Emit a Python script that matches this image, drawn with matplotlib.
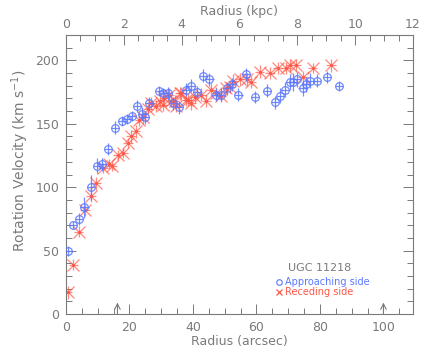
"""Rotation curve of UGC 11218, approaching and receding sides."""

import numpy as np
import matplotlib
matplotlib.use("Agg")
import matplotlib.pyplot as plt
from matplotlib.ticker import MultipleLocator

# approaching side (blue circles)
r_app = [0.5, 2.3, 4.0, 5.8, 7.8, 9.7, 11.4, 13.3, 15.4, 17.7, 19.1, 20.7,
         22.5, 24.0, 25.0, 26.3, 29.2, 30.7, 32.2, 33.7, 35.5, 37.7, 39.5,
         41.4, 43.2, 45.2, 47.4, 48.9, 50.7, 52.3, 54.3, 56.7, 59.5, 63.2,
         65.8, 67.4, 68.9, 70.5, 71.6, 72.8, 74.5, 75.6, 77.0, 79.1, 82.1,
         86.1]
v_app = [50, 70, 75, 84, 100, 117, 118, 130, 147, 152, 154, 156,
         164, 158, 155, 166, 176, 174, 174, 166, 163, 177, 180,
         175, 188, 185, 173, 173, 178, 181, 173, 189, 171, 176,
         167, 172, 177, 183, 183, 185, 178, 181, 184, 184, 187,
         180]
e_app = [4, 3, 5, 8, 10, 6, 5, 5, 5, 4, 4, 4,
         5, 5, 5, 5, 4, 4, 5, 5, 5, 5, 5,
         5, 5, 5, 5, 5, 5, 5, 5, 5, 5, 5,
         5, 6, 6, 6, 7, 6, 6, 6, 6, 5, 5,
         4]

# receding side (red crosses)
r_rec = [0.5, 2.3, 4.0, 5.9, 7.8, 9.5, 11.6, 13.5, 14.5, 16.4, 18.1, 19.5,
         20.5, 21.9, 23.1, 24.2, 25.8, 26.9, 28.4, 29.5, 30.5, 31.0, 32.6,
         33.2, 34.2, 34.7, 35.8, 36.3, 37.9, 38.4, 39.5, 40.5, 42.6, 44.2,
         45.8, 47.4, 48.9, 50.5, 51.6, 52.6, 54.7, 57.0, 58.4, 61.0, 64.2,
         66.7, 69.3, 70.7, 72.6, 74.7, 77.7, 83.4]
v_rec = [17, 39, 65, 82, 93, 103, 115, 118, 117, 125, 127, 135,
         140, 144, 153, 155, 162, 166, 164, 168, 165, 170, 173,
         168, 168, 164, 174, 174, 169, 169, 166, 171, 173, 168,
         177, 174, 172, 178, 179, 184, 185, 185, 183, 191, 190,
         194, 194, 196, 196, 187, 194, 196]
e_rec = [5, 4, 4, 5, 5, 5, 4, 4, 4, 4, 4, 4,
         5, 5, 5, 5, 5, 5, 5, 5, 5, 5, 5,
         5, 5, 5, 5, 5, 5, 5, 5, 5, 5, 5,
         5, 5, 5, 5, 5, 5, 5, 5, 5, 5, 5,
         5, 5, 5, 5, 5, 4, 5]

arrow_pos = [16.2, 100.0]

grey = "#7a7a7a"
blue = "#5a78ff"
red = "#ff5848"

fig = plt.figure(figsize=(4.36, 3.49), dpi=100)
ax = fig.add_axes([0.1514, 0.1003, 0.7958, 0.7994])

ax.errorbar(r_app, v_app, yerr=e_app, xerr=1.3, fmt="o", mfc="none",
            mec=blue, ecolor=blue, ms=5.5, mew=0.9, elinewidth=0.9,
            capsize=0, alpha=0.85, zorder=3)
ax.errorbar(r_rec, v_rec, yerr=e_rec, xerr=1.5, fmt="x", color=red,
            ms=8, mew=0.9, elinewidth=0.9, capsize=0, alpha=0.7, zorder=2)
ax.plot(r_rec, v_rec, ".", color=red, ms=2.5, zorder=2)

for xa in arrow_pos:
    ax.annotate("", xy=(xa, 9), xytext=(xa, 0),
                arrowprops=dict(arrowstyle="->", color=grey, lw=0.8,
                                shrinkA=0, shrinkB=0))

ax.set_xlim(0, 109.3)
ax.set_ylim(0, 220)
ax.xaxis.set_major_locator(MultipleLocator(20))
ax.xaxis.set_minor_locator(MultipleLocator(5))
ax.yaxis.set_major_locator(MultipleLocator(50))
ax.yaxis.set_minor_locator(MultipleLocator(10))
ax.tick_params(which="both", direction="in", colors=grey, labelsize=9,
               right=True, top=False, width=0.7)
ax.tick_params(which="major", length=7, pad=5)
ax.tick_params(which="minor", length=4)
for s in ax.spines.values():
    s.set_color(grey)
    s.set_linewidth(0.8)

ax.set_xlabel("Radius (arcsec)", color=grey, fontsize=9, labelpad=1)
ax.set_ylabel(r"Rotation Velocity (km s$^{-1}$)", color=grey, fontsize=10)
ax.yaxis.set_label_coords(-0.10, 0.55)

# top axis in kpc
top = ax.twiny()
top.set_xlim(0, 12)
top.xaxis.set_major_locator(MultipleLocator(2))
top.xaxis.set_minor_locator(MultipleLocator(0.5))
top.tick_params(which="both", direction="in", colors=grey, labelsize=9,
                width=0.7)
top.tick_params(which="major", length=7, pad=3)
top.tick_params(which="minor", length=4)
top.set_xlabel("Radius (kpc)", color=grey, fontsize=9, labelpad=2)
for s in top.spines.values():
    s.set_visible(False)

# legend text
ax.text(0.732, 0.166, "UGC 11218", transform=ax.transAxes, color=grey,
        fontsize=8, ha="center", va="center")
ax.plot([0.613], [0.113], "o", transform=ax.transAxes, mfc="none",
        mec=blue, ms=4, mew=0.8, clip_on=False)
ax.text(0.632, 0.113, "Approaching side", transform=ax.transAxes,
        color=blue, fontsize=7, va="center")
ax.plot([0.613], [0.078], "x", transform=ax.transAxes, color=red,
        ms=5, mew=0.9, clip_on=False)
ax.text(0.632, 0.078, "Receding side", transform=ax.transAxes,
        color=red, fontsize=7, va="center")

fig.savefig("out.png", dpi=100)
